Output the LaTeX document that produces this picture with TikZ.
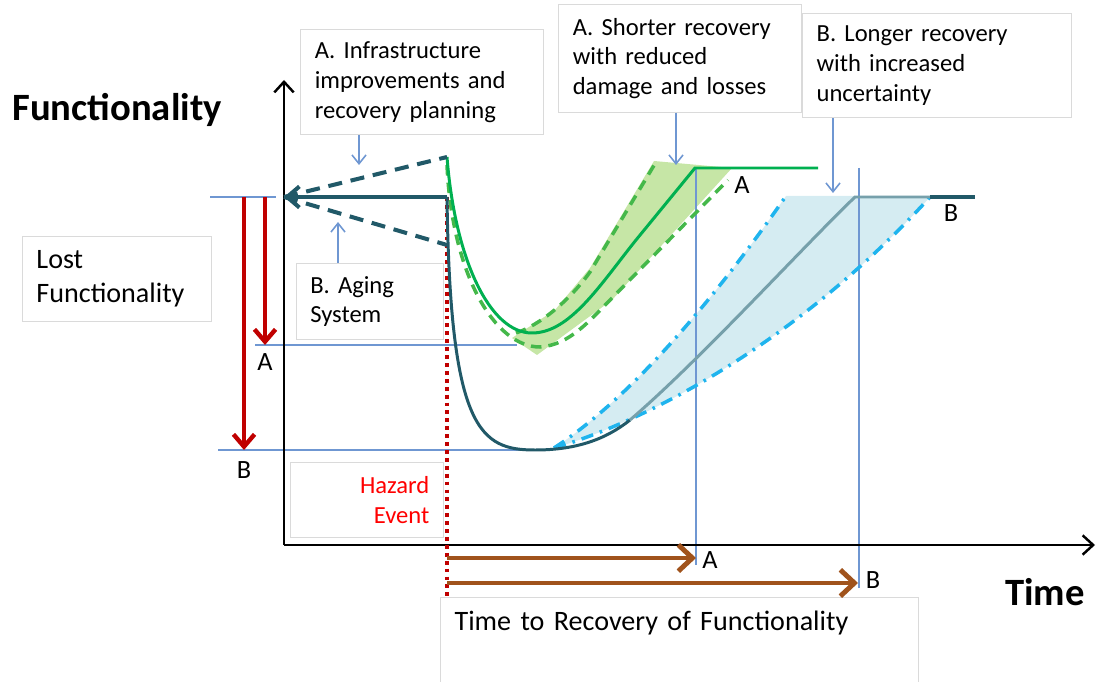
\documentclass[tikz,border=0pt]{standalone}
\usepackage{fontspec}
\setmainfont{Carlito}
\usepackage{xcolor}
\usetikzlibrary{
    arrows.meta,
    positioning
}
\definecolor{darkteal}{HTML}{215968}
\definecolor{slateteal}{HTML}{76A0AB}
\definecolor{recgreen}{HTML}{00B050}
\definecolor{dashgreen}{HTML}{44B84A}
\definecolor{bandgreen}{HTML}{C6E6A6}
\definecolor{bandblue}{HTML}{D5ECF2}
\definecolor{skyblue}{HTML}{1FB4EE}
\definecolor{guideblue}{HTML}{6F97D2}
\definecolor{lossred}{HTML}{C00000}
\definecolor{timebrown}{HTML}{A0531C}
\definecolor{boxgray}{HTML}{DADADA}

\begin{document}
\begin{tikzpicture}[x=0.02cm, y=-0.02cm,
    txtbox/.style={draw=boxgray, line width=0.6pt, fill=white, align=left, inner xsep=8pt, inner ysep=0pt, font=\fontsize{14}{17}\selectfont},
    tag/.style={inner sep=0pt, font=\fontsize{15}{18}\selectfont},
    axisline/.style={line width=1.4pt, -{Straight Barb[length=6pt,width=11pt]}},
    guide/.style={guideblue, line width=0.9pt},
    note/.style={guideblue, line width=0.9pt, -{Straight Barb[length=5pt,width=8pt]}},
    tealarrow/.style={darkteal, line width=2.3pt, -{Straight Barb[length=7pt,width=12pt]}},
    tealdash/.style={darkteal, line width=2.3pt, dash pattern=on 8pt off 5pt},
    greendash/.style={dashgreen, line width=2pt, dash pattern=on 6pt off 4pt},
    bluedashdot/.style={skyblue, line width=2pt, dash pattern=on 7pt off 4pt on 1.5pt off 4pt},
    lossarrow/.style={lossred, line width=2.5pt, -{Straight Barb[length=7pt,width=12pt]}},
    timearrow/.style={timebrown, line width=2.8pt, -{Straight Barb[length=8pt,width=15pt]}},
    hazardline/.style={lossred, line width=2.3pt, dash pattern=on 2.2pt off 2.3pt}
]
\useasboundingbox (0,0) rectangle (1099,682);

\node[inner sep=0pt, font=\fontsize{22}{26}\selectfont\bfseries] (functitle) at (117,110) {Functionality};
\node[inner sep=0pt, font=\fontsize{22}{26}\selectfont\bfseries] (timetitle) at (1045,592) {Time};

\node[txtbox, text width=122pt, minimum height=60pt] (infrabox) at (422,82) {A. Infrastructure\\improvements and\\recovery planning};
\node[txtbox, text width=122pt, minimum height=61pt] (shortbox) at (680,58.5) {A. Shorter recovery\\with reduced\\damage and losses};
\node[txtbox, text width=137pt, minimum height=59.5pt] (longbox) at (937,65.5) {B. Longer recovery\\with increased\\uncertainty};
\node[txtbox, font=\fontsize{16}{19.3}\selectfont, text width=91.7pt, minimum height=48.8pt] (lostbox) at (117,279) {Lost\\Functionality};
\node[txtbox, text width=68pt, minimum height=43.7pt] (agingbox) at (370,301.5) {B. Aging\\System};
\node[txtbox, align=right, text=red, text width=71pt, minimum height=43pt] (hazardbox) at (367,500) {Hazard\\Event};
\node[txtbox, font=\fontsize{16}{19}\selectfont, anchor=north west, text width=256pt, inner ysep=4pt, text height=15pt, text depth=27pt] (timebox) at (440,597) {Time to Recovery of Functionality};

\fill[bandgreen] (512,338) -- (537,355) -- (612,300) -- (732,168) -- (654,161) -- (590,268) -- (555,310) -- cycle;
\fill[bandblue] (554,448) .. controls (620,405) and (700,320) .. (786,196) -- (931,196) .. controls (800,340) and (650,420) .. (554,448) -- cycle;

\coordinate (origin) at (284,545);
\coordinate (ytop) at (284,80);
\coordinate (xend) at (1095,545);
\coordinate (base) at (284,197);
\coordinate (hazard) at (447,197);
\coordinate (upper) at (447,157);
\coordinate (lower) at (447,245);
\coordinate (levelA) at (265,345);
\coordinate (levelB) at (244,450);
\coordinate (endA) at (696,558);
\coordinate (endB) at (858,583);

\draw[guide] (210,197) -- (276,197);
\draw[guide] (255,345) -- (517,345);
\draw[guide] (218,450) -- (540,450);
\draw[guide] (696,168) -- (696,565);
\draw[guide] (859,168) -- (859,588);

\draw[axisline] (origin) -- (ytop);
\draw[axisline] (origin) -- (xend);

\draw[hazardline] (hazard) -- (447,597);

\draw[greendash] (447,165) .. controls (452,275) and (495,347) .. (540,347) .. controls (570,345) and (590,320) .. (612,298) -- (728,180);
\draw[greendash] (516,333) .. controls (540,325) and (570,300) .. (590,272) -- (656,162);
\draw[bluedashdot] (554,448) .. controls (620,405) and (700,320) .. (786,196);
\draw[bluedashdot] (554,448) .. controls (650,420) and (800,340) .. (931,196);

\draw[darkteal, line width=1.7pt] (hazard) .. controls (450,430) and (480,450) .. (535,450) .. controls (575,450) and (605,440) .. (630,420);
\draw[slateteal, line width=1.7pt] (630,420) .. controls (700,360) and (800,250) .. (855,197) -- (930,197);
\draw[darkteal, line width=2.3pt] (930,197) -- (975,197);
\draw[recgreen, line width=1.7pt] (upper) .. controls (455,260) and (490,333) .. (532,333) .. controls (570,333) and (600,285) .. (636,240) -- (695,168) -- (818,168);

\draw[tealarrow] (hazard) -- (base);
\draw[tealdash] (base) -- (upper);
\draw[tealdash] (base) -- (lower);

\draw[lossarrow] (244,197) -- (levelB);
\draw[lossarrow] (265,197) -- (levelA);
\draw[timearrow] (447,558) -- (endA);
\draw[timearrow] (447,583) -- (endB);

\coordinate (infratip) at (359,165);
\coordinate (agingtip) at (338,222);
\coordinate (shorttip) at (676,165);
\coordinate (longtip) at (833,193);
\draw[note] (infrabox.south -| infratip) -- (infratip);
\draw[note] (agingbox.north -| agingtip) -- (agingtip);
\draw[note] (shortbox.south -| shorttip) -- (shorttip);
\draw[note] (longbox.south -| longtip) -- (longtip);

\node[tag] (lossA) at (265,362) {A};
\node[tag] (lossB) at (244,470) {B};
\node[tag] (flatA) at (742,185) {A};
\node[tag] (flatB) at (951,213) {B};
\node[tag] (timeA) at (710,560) {A};
\node[tag] (timeB) at (873,580) {B};
\end{tikzpicture}
\end{document}
